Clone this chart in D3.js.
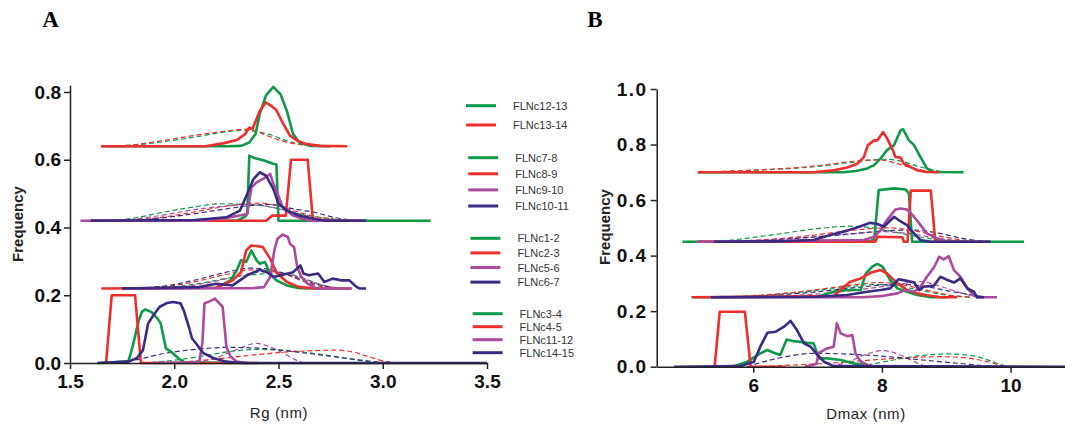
<!DOCTYPE html>
<html>
<head>
<meta charset="utf-8">
<title>Rg / Dmax distributions</title>
<script src="https://cdn.jsdelivr.net/npm/d3@7"></script>
<style>
  body { margin: 0; background: #fff; }
  .tick text { font-family: "Liberation Sans", Arial, sans-serif; font-weight: bold; font-size: 19px; fill: #111; }
  .axis path, .axis line { stroke: #222; stroke-width: 1.5px; }
  .ylabel { font-family: "Liberation Sans", Arial, sans-serif; font-weight: bold; font-size: 15px; fill: #222; }
  .xlabel { font-family: "Liberation Sans", Arial, sans-serif; font-size: 15px; fill: #222; letter-spacing: 0.6px; }
  .panel { font-family: "Liberation Serif", "Times New Roman", serif; font-weight: bold; font-size: 23px; fill: #000; }
  .legend text { font-family: "Liberation Sans", Arial, sans-serif; font-size: 11px; fill: #333; }
</style>
</head>
<body>
<svg width="1065" height="425"></svg>
<script>
// series, in legend order
var seriesNames = ["FLNc12-13", "FLNc13-14", "FLNc7-8", "FLNc8-9", "FLNc9-10", "FLNc10-11",
  "FLNc1-2", "FLNc2-3", "FLNc5-6", "FLNc6-7", "FLNc3-4", "FLNc4-5", "FLNc11-12", "FLNc14-15"];
var seriesGroup = [0, 0, 1, 1, 1, 1, 2, 2, 2, 2, 3, 3, 3, 3];
var seriesColors = ["#0c9a47", "#ee2e2a", "#0c9a47", "#ee2e2a", "#ad4a9d", "#3a2a84",
  "#0c9a47", "#ee2e2a", "#ad4a9d", "#3a2a84", "#0c9a47", "#ee2e2a", "#ad4a9d", "#3a2a84"];

// panel A : Rg (nm) vs frequency (stacked, offset already included)
var rgTicksX = [1.5, 2.0, 2.5, 3.0, 3.5];
var rgTicksY = [0, 0.2, 0.4, 0.6, 0.8];
var rgSolid = [
  [[1.65,0.64],[2.25,0.64],[2.32,0.641],[2.36,0.651],[2.39,0.676],[2.41,0.735],[2.44,0.79],[2.475,0.815],[2.51,0.793],[2.54,0.744],[2.57,0.676],[2.60,0.651],[2.65,0.641],[2.75,0.64]],
  [[1.65,0.64],[2.15,0.64],[2.24,0.649],[2.30,0.658],[2.34,0.676],[2.36,0.695],[2.375,0.69],[2.41,0.744],[2.44,0.769],[2.465,0.759],[2.49,0.746],[2.515,0.715],[2.555,0.671],[2.59,0.656],[2.635,0.646],[2.70,0.641],[2.83,0.64]],
  [[1.60,0.42],[2.30,0.42],[2.34,0.432],[2.35,0.44],[2.36,0.612],[2.38,0.606],[2.43,0.598],[2.475,0.588],[2.49,0.586],[2.50,0.42],[3.23,0.42]],
  [[1.60,0.42],[2.44,0.42],[2.47,0.435],[2.535,0.435],[2.56,0.6],[2.64,0.6],[2.665,0.42],[2.9,0.42]],
  [[1.55,0.42],[2.12,0.42],[2.25,0.428],[2.32,0.436],[2.35,0.44],[2.37,0.518],[2.395,0.533],[2.43,0.545],[2.46,0.558],[2.475,0.53],[2.49,0.509],[2.52,0.46],[2.57,0.435],[2.62,0.425],[2.66,0.42],[2.92,0.42]],
  [[1.60,0.42],[2.10,0.422],[2.25,0.43],[2.315,0.45],[2.35,0.499],[2.38,0.543],[2.41,0.563],[2.44,0.553],[2.475,0.514],[2.50,0.47],[2.54,0.45],[2.60,0.435],[2.67,0.426],[2.73,0.42],[2.92,0.42]],
  [[1.75,0.22],[2.20,0.222],[2.27,0.244],[2.30,0.274],[2.32,0.303],[2.345,0.298],[2.37,0.332],[2.395,0.303],[2.41,0.293],[2.435,0.298],[2.46,0.264],[2.49,0.244],[2.54,0.229],[2.60,0.221],[2.70,0.22]],
  [[1.65,0.22],[2.20,0.222],[2.28,0.244],[2.32,0.268],[2.345,0.332],[2.37,0.347],[2.41,0.344],[2.425,0.342],[2.46,0.308],[2.49,0.268],[2.54,0.239],[2.60,0.224],[2.68,0.22],[2.85,0.22]],
  [[1.75,0.22],[2.38,0.221],[2.43,0.224],[2.46,0.254],[2.48,0.332],[2.495,0.367],[2.52,0.379],[2.545,0.372],[2.555,0.352],[2.575,0.342],[2.59,0.283],[2.61,0.254],[2.64,0.234],[2.68,0.22],[2.85,0.22]],
  [[1.75,0.22],[2.12,0.224],[2.20,0.234],[2.28,0.229],[2.315,0.244],[2.35,0.259],[2.41,0.275],[2.445,0.268],[2.475,0.254],[2.51,0.259],[2.57,0.268],[2.605,0.288],[2.62,0.264],[2.645,0.259],[2.69,0.264],[2.72,0.239],[2.76,0.249],[2.80,0.244],[2.84,0.244],[2.875,0.224],[2.89,0.22],[2.92,0.22]],
  [[1.65,0],[1.78,0.005],[1.80,0.048],[1.83,0.126],[1.845,0.151],[1.86,0.158],[1.89,0.151],[1.92,0.131],[1.935,0.117],[1.96,0.043],[1.985,0.033],[2.02,0.014],[2.05,0.002],[2.3,0]],
  [[1.673,0],[1.70,0.2],[1.812,0.2],[1.84,0],[2.4,0]],
  [[1.90,0],[2.12,0.002],[2.135,0.06],[2.145,0.176],[2.18,0.185],[2.195,0.19],[2.21,0.18],[2.232,0.166],[2.25,0.048],[2.27,0.019],[2.30,0.004],[2.35,0]],
  [[1.63,0],[1.78,0.004],[1.82,0.014],[1.85,0.038],[1.875,0.117],[1.90,0.141],[1.93,0.166],[1.965,0.177],[1.995,0.18],[2.03,0.176],[2.045,0.156],[2.07,0.107],[2.085,0.073],[2.11,0.053],[2.14,0.029],[2.19,0.014],[2.25,0.004],[2.32,0],[3.5,0]]
];
var rgFit = [
  [[1.65,0.64],[1.80,0.643],[1.93,0.652],[2.09,0.666],[2.20,0.678],[2.28,0.685],[2.33,0.687],[2.40,0.683],[2.46,0.674],[2.54,0.656],[2.60,0.646],[2.68,0.641],[2.76,0.64]],
  [[1.65,0.64],[1.80,0.644],[1.93,0.655],[2.09,0.671],[2.20,0.681],[2.30,0.688],[2.35,0.69],[2.40,0.683],[2.45,0.67],[2.52,0.655],[2.60,0.645],[2.68,0.641],[2.76,0.64]],
  [[1.65,0.42],[1.80,0.427],[1.93,0.443],[2.09,0.46],[2.22,0.47],[2.35,0.468],[2.45,0.462],[2.57,0.445],[2.70,0.43],[2.86,0.421],[2.95,0.42]],
  [[1.70,0.42],[1.90,0.427],[2.09,0.445],[2.22,0.46],[2.33,0.469],[2.41,0.472],[2.48,0.466],[2.57,0.45],[2.68,0.432],[2.80,0.422],[2.88,0.42]],
  [[1.75,0.42],[1.93,0.435],[2.09,0.452],[2.22,0.462],[2.35,0.468],[2.45,0.462],[2.55,0.448],[2.66,0.43],[2.76,0.421],[2.84,0.42]],
  [[1.75,0.42],[1.90,0.426],[2.09,0.44],[2.25,0.455],[2.37,0.465],[2.46,0.468],[2.57,0.455],[2.67,0.445],[2.78,0.428],[2.88,0.421],[2.92,0.42]],
  [[1.80,0.22],[2.0,0.225],[2.15,0.238],[2.30,0.255],[2.42,0.263],[2.50,0.265],[2.58,0.258],[2.66,0.24],[2.74,0.225],[2.82,0.22]],
  [[1.75,0.22],[1.95,0.225],[2.10,0.24],[2.25,0.262],[2.38,0.275],[2.46,0.272],[2.55,0.258],[2.63,0.238],[2.72,0.224],[2.80,0.22]],
  [[1.85,0.22],[2.05,0.226],[2.20,0.242],[2.33,0.26],[2.45,0.27],[2.53,0.265],[2.62,0.25],[2.70,0.232],[2.78,0.222],[2.85,0.22]],
  [[1.75,0.22],[1.95,0.227],[2.10,0.245],[2.25,0.268],[2.36,0.28],[2.44,0.278],[2.54,0.262],[2.64,0.24],[2.74,0.225],[2.85,0.22]],
  [[1.85,0],[2.00,0.008],[2.15,0.022],[2.28,0.035],[2.40,0.04],[2.52,0.038],[2.65,0.03],[2.80,0.016],[2.92,0.005],[3.0,0]],
  [[1.95,0],[2.10,0.006],[2.25,0.015],[2.40,0.025],[2.55,0.033],[2.70,0.037],[2.78,0.038],[2.86,0.032],[2.95,0.015],[3.02,0.004],[3.1,0]],
  [[2.10,0],[2.20,0.015],[2.30,0.04],[2.395,0.058],[2.45,0.05],[2.52,0.03],[2.58,0.01],[2.62,0]],
  [[1.70,0],[1.82,0.01],[1.95,0.028],[2.10,0.04],[2.25,0.046],[2.40,0.044],[2.55,0.035],[2.70,0.024],[2.85,0.012],[3.0,0.002],[3.1,0]]
];

// panel B : Dmax (nm) vs frequency
var dmaxTicksX = [6, 8, 10];
var dmaxTicksY = [0, 0.2, 0.4, 0.6, 0.8, 1.0];
var dmaxSolid = [
  [[5.14,0.70],[7.40,0.70],[7.60,0.705],[7.77,0.714],[7.88,0.726],[7.98,0.75],[8.08,0.78],[8.19,0.798],[8.29,0.851],[8.33,0.855],[8.42,0.815],[8.50,0.798],[8.60,0.755],[8.70,0.714],[8.81,0.701],[9.27,0.70]],
  [[5.14,0.70],[6.94,0.70],[7.25,0.707],[7.46,0.717],[7.62,0.731],[7.72,0.755],[7.78,0.797],[7.88,0.815],[7.93,0.815],[8.02,0.845],[8.08,0.822],[8.16,0.785],[8.21,0.755],[8.29,0.753],[8.34,0.731],[8.45,0.719],[8.55,0.707],[8.70,0.701],[8.89,0.70]],
  [[4.90,0.45],[7.82,0.452],[7.88,0.458],[7.95,0.636],[8.19,0.642],[8.37,0.638],[8.42,0.625],[8.47,0.45],[10.21,0.45]],
  [[5.13,0.45],[7.90,0.45],[7.93,0.468],[8.32,0.466],[8.34,0.45],[8.40,0.45],[8.45,0.634],[8.76,0.634],[8.83,0.45],[9.3,0.45]],
  [[5.13,0.45],[7.72,0.456],[7.88,0.468],[7.98,0.492],[8.08,0.528],[8.21,0.566],[8.29,0.57],[8.39,0.566],[8.50,0.54],[8.58,0.516],[8.70,0.48],[8.86,0.462],[9.02,0.45],[9.69,0.45]],
  [[5.39,0.45],[6.50,0.452],[6.94,0.456],[7.20,0.474],[7.46,0.49],[7.67,0.506],[7.82,0.518],[7.93,0.514],[8.03,0.504],[8.11,0.522],[8.19,0.54],[8.26,0.528],[8.39,0.51],[8.50,0.48],[8.60,0.456],[8.76,0.45],[9.69,0.45]],
  [[5.08,0.25],[7.00,0.252],[7.25,0.27],[7.46,0.276],[7.67,0.276],[7.75,0.336],[7.85,0.36],[7.93,0.37],[8.01,0.36],[8.13,0.312],[8.24,0.282],[8.39,0.27],[8.55,0.258],[8.76,0.25],[9.0,0.25]],
  [[5.04,0.25],[7.25,0.254],[7.41,0.288],[7.51,0.306],[7.67,0.318],[7.82,0.338],[7.98,0.348],[8.08,0.336],[8.24,0.30],[8.39,0.276],[8.55,0.264],[8.70,0.257],[8.91,0.25],[9.17,0.25]],
  [[5.34,0.25],[7.70,0.25],[7.98,0.254],[8.24,0.264],[8.37,0.276],[8.50,0.27],[8.60,0.288],[8.70,0.324],[8.81,0.358],[8.89,0.396],[8.96,0.386],[9.04,0.398],[9.12,0.348],[9.22,0.324],[9.33,0.282],[9.40,0.264],[9.48,0.25],[9.79,0.25]],
  [[5.34,0.25],[7.0,0.252],[7.46,0.258],[7.77,0.27],[7.98,0.276],[8.13,0.282],[8.26,0.315],[8.37,0.31],[8.50,0.303],[8.58,0.276],[8.65,0.288],[8.81,0.292],[8.91,0.324],[9.02,0.312],[9.12,0.303],[9.22,0.318],[9.33,0.282],[9.43,0.27],[9.48,0.25],[9.59,0.25]],
  [[5.40,0],[5.70,0.002],[5.91,0.018],[6.11,0.048],[6.22,0.06],[6.32,0.05],[6.42,0.042],[6.52,0.098],[6.63,0.092],[6.84,0.086],[6.94,0.084],[7.02,0.03],[7.15,0.03],[7.36,0.024],[7.46,0.018],[7.56,0.012],[7.72,0.006],[7.88,0]],
  [[5.40,0],[5.48,0.198],[5.87,0.198],[5.96,0],[6.5,0]],
  [[6.80,0],[6.98,0.01],[7.02,0.05],[7.15,0.066],[7.25,0.072],[7.30,0.156],[7.36,0.12],[7.46,0.11],[7.54,0.114],[7.59,0.048],[7.67,0.018],[7.82,0.002],[8.0,0]],
  [[4.77,0],[5.80,0.002],[6.01,0.018],[6.11,0.072],[6.22,0.122],[6.35,0.126],[6.48,0.144],[6.58,0.165],[6.68,0.132],[6.79,0.084],[6.89,0.072],[7.0,0.042],[7.10,0.018],[7.25,0.002],[11,0]]
];
var dmaxFit = [
  [[5.14,0.70],[6.0,0.707],[6.94,0.72],[7.5,0.735],[8.03,0.747],[8.34,0.738],[8.55,0.722],[8.76,0.71],[9.0,0.70]],
  [[5.14,0.70],[6.0,0.708],[6.94,0.722],[7.5,0.738],[7.80,0.744],[7.98,0.744],[8.24,0.731],[8.50,0.714],[8.76,0.703],[8.9,0.70]],
  [[5.0,0.45],[5.6,0.455],[6.3,0.475],[7.0,0.497],[7.51,0.506],[8.0,0.495],[8.5,0.47],[9.0,0.455],[9.5,0.45]],
  [[5.3,0.45],[6.0,0.455],[6.8,0.47],[7.5,0.49],[8.08,0.50],[8.5,0.49],[8.9,0.47],[9.3,0.455],[9.6,0.45]],
  [[5.3,0.45],[6.0,0.454],[6.8,0.465],[7.5,0.478],[7.98,0.486],[8.4,0.48],[8.8,0.465],[9.2,0.454],[9.5,0.45]],
  [[5.4,0.45],[6.2,0.455],[7.0,0.468],[7.6,0.48],[8.1,0.49],[8.5,0.492],[8.9,0.48],[9.3,0.46],[9.7,0.45]],
  [[5.2,0.25],[6.0,0.255],[6.8,0.27],[7.4,0.285],[7.85,0.296],[8.2,0.292],[8.6,0.275],[9.0,0.258],[9.4,0.25]],
  [[5.1,0.25],[6.0,0.256],[6.8,0.272],[7.4,0.29],[7.98,0.303],[8.3,0.296],[8.7,0.275],[9.1,0.256],[9.4,0.25]],
  [[5.6,0.25],[6.5,0.255],[7.3,0.268],[7.9,0.285],[8.3,0.298],[8.6,0.306],[8.9,0.29],[9.2,0.268],[9.45,0.252],[9.5,0.25]],
  [[5.4,0.25],[6.2,0.256],[7.0,0.27],[7.6,0.285],[8.24,0.297],[8.7,0.288],[9.1,0.27],[9.5,0.255],[9.7,0.25]],
  [[7.4,0],[7.8,0.008],[8.2,0.025],[8.6,0.04],[9.02,0.046],[9.4,0.04],[9.7,0.02],[9.9,0.004],[10.0,0]],
  [[6.0,0],[6.8,0.008],[7.5,0.018],[8.2,0.03],[8.9,0.036],[9.3,0.032],[9.6,0.02],[9.9,0.003],[10.0,0]],
  [[7.2,0],[7.5,0.02],[7.8,0.048],[8.0,0.058],[8.2,0.05],[8.4,0.03],[8.6,0.008],[8.7,0]],
  [[5.9,0],[6.2,0.02],[6.6,0.04],[6.94,0.048],[7.4,0.046],[8.0,0.038],[8.6,0.025],[9.2,0.012],[9.7,0.002],[9.9,0]]
];

var svg = d3.select("svg");

function drawPanel(opt) {
  var x = d3.scaleLinear().domain(opt.xDomain).range(opt.xRange),
      y = d3.scaleLinear().domain(opt.yDomain).range(opt.yRange);
  var g = svg.append("g");

  var fitLine = d3.line().curve(d3.curveMonotoneX).x(d => x(d[0])).y(d => y(d[1])),
      solidLine = d3.line().x(d => x(d[0])).y(d => y(d[1]));

  // draw groups from back (top) to front, fits first then histograms
  for (var grp = 0; grp < 4; grp++) {
    seriesNames.forEach(function(name, i) {
      if (seriesGroup[i] !== grp) return;
      g.append("path").attr("d", fitLine(opt.fit[i]))
        .attr("fill", "none").attr("stroke", seriesColors[i])
        .attr("stroke-width", 1.2).attr("stroke-dasharray", "5,3");
    });
    seriesNames.forEach(function(name, i) {
      if (seriesGroup[i] !== grp) return;
      g.append("path").attr("d", solidLine(opt.solid[i]))
        .attr("fill", "none").attr("stroke", seriesColors[i])
        .attr("stroke-width", 2.6).attr("stroke-linejoin", "round");
    });
  }

  var yAxis = d3.axisLeft(y).tickValues(opt.yTicks).tickFormat(d3.format(".1f"))
    .tickSize(6).tickSizeOuter(0).tickPadding(3);
  var gy = g.append("g").attr("class", "axis").attr("transform", `translate(${opt.xRange[0]},0)`).call(yAxis);
  if (opt.yLetter) gy.selectAll(".tick text").style("letter-spacing", opt.yLetter);

  var xAxis = d3.axisBottom(x).tickValues(opt.xTicks).tickFormat(opt.xFormat)
    .tickSize(6).tickSizeOuter(0).tickPadding(6);
  g.append("g").attr("class", "axis").attr("transform", `translate(0,${opt.yRange[0]})`).call(xAxis);

  g.append("text").attr("class", "ylabel")
    .attr("transform", `translate(${opt.yLabelX},${opt.yLabelY}) rotate(-90)`)
    .attr("text-anchor", "middle").text("Frequency");
  g.append("text").attr("class", "xlabel")
    .attr("x", opt.xLabelX).attr("y", opt.xLabelY)
    .attr("text-anchor", "middle").text(opt.xLabel);
  g.append("text").attr("class", "panel")
    .attr("x", opt.letterX).attr("y", 27).attr("text-anchor", "middle").text(opt.letter);
}

drawPanel({
  xDomain: [1.5, 3.5], xRange: [70, 487],
  yDomain: [0, 0.82], yRange: [363, 85.2],
  xTicks: rgTicksX, yTicks: rgTicksY, xFormat: d3.format(".1f"),
  solid: rgSolid, fit: rgFit,
  yLabelX: 23, yLabelY: 224, xLabelX: 279, xLabelY: 418, xLabel: "Rg (nm)",
  letter: "A", letterX: 50.5
});

drawPanel({
  xDomain: [4.5, 11], xRange: [656.7, 1074.9],
  yDomain: [0, 1], yRange: [366.7, 89],
  xTicks: dmaxTicksX, yTicks: dmaxTicksY, xFormat: d3.format("d"),
  solid: dmaxSolid, fit: dmaxFit, yLetter: "1.5px",
  yLabelX: 610, yLabelY: 227, xLabelX: 866, xLabelY: 419, xLabel: "Dmax (nm)",
  letter: "B", letterX: 595
});

// legend (panel A, right side)
var legendTop = [105.7, 157.7, 238.3, 313.7],
    legendStep = [19.3, 16.1, 14.6, 13.0];
var legend = svg.append("g").attr("class", "legend");
seriesNames.forEach(function(name, i) {
  var grp = seriesGroup[i],
      k = seriesGroup.slice(0, i).filter(v => v === grp).length,
      yy = legendTop[grp] + k * legendStep[grp],
      x0 = 466 + grp * 2.2;
  legend.append("line").attr("x1", x0).attr("x2", x0 + 30).attr("y1", yy).attr("y2", yy)
    .attr("stroke", seriesColors[i]).attr("stroke-width", 3);
  legend.append("text").attr("x", x0 + 47).attr("y", yy + 4).text(name);
});
</script>
</body>
</html>
